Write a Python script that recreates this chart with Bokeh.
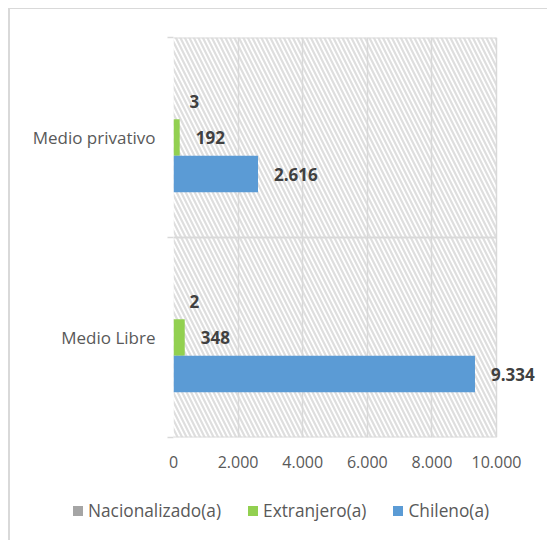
from bokeh.plotting import figure
from bokeh.layouts import column
from bokeh.models import (Range1d, FixedTicker, CustomJSTickFormatter, BoxAnnotation,
                          ColumnDataSource, Div)
from bokeh.embed import file_html
from bokeh.resources import INLINE
from bokeh.core.properties import value

# ---- data ----
categories = ["Medio privativo", "Medio Libre"]          # top to bottom
series_names = ["Nacionalizado(a)", "Extranjero(a)", "Chileno(a)"]
nacionalizado = [3, 2]
extranjero = [192, 348]
chileno = [2616, 9334]
x_ticks = [0, 2000, 4000, 6000, 8000, 10000]

colors = ["#A5A5A5", "#92D050", "#5B9BD5"]
series_values = [nacionalizado, extranjero, chileno]

FONT = "Open Sans"
GRID = "#d9d9d9"
BAR_H = 0.1825
offsets = [BAR_H, 0.0, -BAR_H]

n = len(categories)
centers = [n - i - 0.5 for i in range(n)]
bounds = list(range(n + 1))

# plot area 0..10000 is 323px wide; frame extends further right so labels are not clipped
FRAME_W = 374
X_END = x_ticks[-1] * FRAME_W / 323.0

p = figure(width=537, height=468, output_backend="svg", toolbar_location=None,
           x_range=Range1d(0, X_END), y_range=Range1d(0, n),
           min_border_left=163, min_border_right=0, min_border_top=28, min_border_bottom=40,
           background_fill_color="white", border_fill_color="white",
           outline_line_color=None)

# hatched plot background, bounded to the value axis extent
p.add_layout(BoxAnnotation(left=x_ticks[0], right=x_ticks[-1], fill_alpha=0, line_color=None,
                           hatch_pattern="\\", hatch_color="#dedede", hatch_scale=9,
                           hatch_weight=2.2, level="image"))

# category boundary lines (limited to the value axis extent)
p.segment(x0=[x_ticks[0]] * len(bounds), x1=[x_ticks[-1]] * len(bounds),
          y0=bounds, y1=bounds, line_color=GRID, line_width=2)

def fmt(v):
    return f"{v:,}".replace(",", ".")

for name, vals, col, off in zip(series_names, series_values, colors, offsets):
    src = ColumnDataSource(dict(y=[c + off for c in centers], x=vals,
                                lbl=[fmt(v) for v in vals]))
    p.hbar(y="y", right="x", left=0, height=BAR_H, source=src,
           fill_color=col, line_color=None)
    p.text(x="x", y="y", text="lbl", source=src, x_offset=16,
           text_align="left", text_baseline="middle",
           text_font=value(FONT), text_font_size="17px", text_font_style="bold",
           text_color="#404040")

# x axis
p.xaxis.ticker = FixedTicker(ticks=x_ticks)
p.xaxis.formatter = CustomJSTickFormatter(
    code='return tick.toFixed(0).replace(/\\B(?=(\\d{3})+(?!\\d))/g, ".");')
p.xaxis.axis_line_color = None
p.xaxis.major_tick_line_color = None
p.xaxis.minor_tick_line_color = None
p.xaxis.major_label_standoff = 12
p.xaxis.major_label_text_font = FONT
p.xaxis.major_label_text_font_size = "16px"
p.xaxis.major_label_text_color = "#595959"

# y axis
p.yaxis.ticker = FixedTicker(ticks=centers, minor_ticks=bounds)
p.yaxis.major_label_overrides = {c: cat for c, cat in zip(centers, categories)}
p.yaxis.axis_line_color = None
p.yaxis.major_tick_line_color = None
p.yaxis.major_tick_out = 0
p.yaxis.major_tick_in = 0
p.yaxis.minor_tick_out = 6
p.yaxis.minor_tick_in = 0
p.yaxis.minor_tick_line_color = GRID
p.yaxis.minor_tick_line_width = 1.5
p.yaxis.major_label_standoff = 12
p.yaxis.major_label_text_font = FONT
p.yaxis.major_label_text_font_size = "17px"
p.yaxis.major_label_text_color = "#595959"

# grids
p.xgrid.ticker = FixedTicker(ticks=x_ticks)
p.xgrid.grid_line_color = GRID
p.xgrid.grid_line_width = 1.5
p.ygrid.grid_line_color = None

# legend strip (HTML)
items_html = ""
for i, (nm, c) in enumerate(zip(series_names, colors)):
    ml = "0" if i == 0 else "27px"
    items_html += (f'<span style="display:inline-block;width:10px;height:10px;background:{c};'
                   f'margin-left:{ml};margin-right:5px;"></span><span>{nm}</span>')
legend_html = (f'<div style="position:absolute;left:58px;top:18px;display:flex;align-items:center;'
               f'white-space:nowrap;font-family:\'{FONT}\';font-size:17.3px;line-height:22px;'
               f'color:#595959;">{items_html}</div>')
lg = Div(text=legend_html, width=537, height=63,
         styles={"position": "relative", "background": "white"})

layout = column(p, lg, spacing=0,
                styles={"margin-left": "8px", "margin-top": "8px",
                        "border-left": "2px solid #d9d9d9", "border-top": "1px solid #d9d9d9"})

open("out.html", "w").write(file_html(layout, INLINE))
